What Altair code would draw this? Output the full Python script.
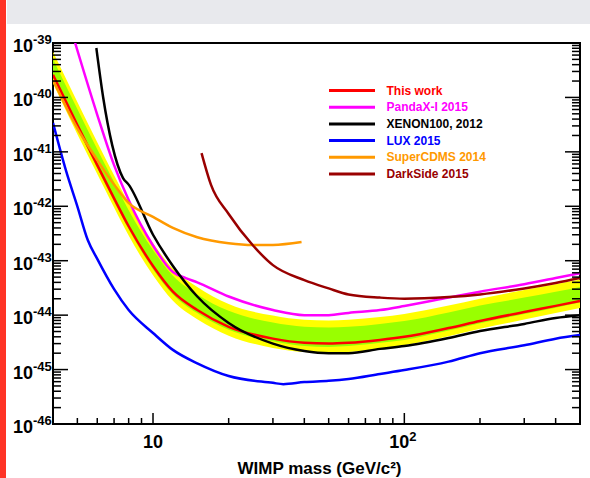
import altair as alt
import pandas as pd

# ---------------- data (WIMP-nucleon cross section, cm^2) ----------------
mass = [4, 5, 6, 7, 8, 10, 12, 15, 20, 30, 40, 50, 60, 80, 100, 150, 200, 300, 400, 500]
this_work = [2.6e-40, 3.1e-41, 5.7e-42, 1.4e-42, 4.3e-43, 8.0e-44, 2.7e-44, 1.24e-44, 6.1e-45, 3.7e-45,
             3.1e-45, 3.0e-45, 3.1e-45, 3.5e-45, 4.0e-45, 5.8e-45, 7.8e-45, 1.14e-44, 1.48e-44, 1.82e-44]
band2_hi = [6.9e-40, 8.2e-41, 1.5e-41, 3.7e-42, 1.14e-42, 2.1e-43, 7.2e-44, 3.3e-44, 1.6e-44, 9.8e-45,
            8.2e-45, 8.0e-45, 8.2e-45, 9.2e-45, 1.05e-44, 1.5e-44, 2.0e-44, 2.9e-44, 3.7e-44, 4.5e-44]
band1_hi = [5.1e-40, 6.1e-41, 1.12e-41, 2.8e-42, 8.5e-43, 1.58e-43, 5.3e-44, 2.4e-44, 1.2e-44, 7.3e-45,
            6.1e-45, 5.9e-45, 6.1e-45, 6.9e-45, 7.8e-45, 1.12e-44, 1.5e-44, 2.1e-44, 2.7e-44, 3.3e-44]
band1_lo = [2.3e-40, 2.7e-41, 5.0e-42, 1.23e-42, 3.8e-43, 7.0e-44, 2.4e-44, 1.09e-44, 5.4e-45, 3.3e-45,
            2.7e-45, 2.6e-45, 2.7e-45, 3.1e-45, 3.5e-45, 5.2e-45, 7.1e-45, 1.05e-44, 1.37e-44, 1.7e-44]
band2_lo = [1.8e-40, 2.1e-41, 3.9e-42, 9.5e-43, 2.9e-43, 5.4e-44, 1.84e-44, 8.4e-45, 4.2e-45, 2.5e-45,
            2.1e-45, 2.0e-45, 2.1e-45, 2.4e-45, 2.8e-45, 4.1e-45, 5.6e-45, 8.3e-45, 1.09e-44, 1.35e-44]

pandax_mass = [4.9, 6, 7, 8, 10, 12, 13.5, 15, 20, 30, 40, 50, 60, 80, 100, 150, 200, 300, 400, 500]
pandax = [1.0e-39, 4.8e-41, 5.7e-42, 1.3e-42, 1.9e-43, 6.2e-44, 4.8e-44, 4.0e-44, 2.2e-44, 1.24e-44,
          1.0e-44, 1.0e-44, 1.1e-44, 1.24e-44, 1.47e-44, 2.1e-44, 2.7e-44, 3.7e-44, 4.8e-44, 5.9e-44]

xenon_mass = [5.95, 6.33, 6.88, 7.6, 8, 10, 12, 15, 20, 30, 40, 50, 60, 80, 100, 150, 200, 300, 400, 500]
xenon = [8.1e-40, 1.02e-40, 1.33e-41, 3.3e-42, 2.5e-42, 3.0e-43, 8.0e-44, 2.2e-44, 7.2e-45, 3.0e-45,
         2.2e-45, 2.0e-45, 2.0e-45, 2.4e-45, 2.7e-45, 3.8e-45, 5.1e-45, 6.9e-45, 8.9e-45, 1.0e-44]

lux_mass = [4, 4.5, 5, 5.5, 6, 7, 8, 10, 12, 15, 20, 30, 33, 40, 50, 60, 80, 100, 150, 200, 300, 400, 500]
lux = [3.4e-41, 4.6e-42, 1.0e-42, 2.4e-43, 1.08e-43, 3.0e-44, 1.24e-44, 4.7e-45, 2.3e-45, 1.3e-45,
       7.6e-46, 5.7e-46, 5.4e-46, 5.9e-46, 6.2e-46, 6.7e-46, 8.3e-46, 9.8e-46, 1.4e-45, 2.0e-45,
       2.8e-45, 3.7e-45, 4.3e-45]

cdms_mass = [4, 5, 6, 7, 8, 10, 12, 15, 20, 25, 30, 39]
cdms = [2.1e-40, 2.7e-41, 7.1e-42, 2.5e-42, 1.15e-42, 6.4e-43, 4.0e-43, 2.7e-43, 2.1e-43, 1.95e-43,
        1.95e-43, 2.2e-43]

ds_mass = [15.6, 17, 20, 25, 30, 40, 50, 60, 80, 100, 150, 200, 300, 400, 500]
darkside = [9.5e-42, 2.5e-42, 7.2e-43, 1.9e-43, 8.3e-44, 4.4e-44, 3.1e-44, 2.4e-44, 2.1e-44, 2.0e-44,
            2.15e-44, 2.4e-44, 3.1e-44, 3.9e-44, 4.8e-44]

names = ["This work", "PandaX-I 2015", "XENON100, 2012", "LUX 2015", "SuperCDMS 2014", "DarkSide 2015"]
colors = ["#ff0000", "#ff00ff", "#000000", "#0000ff", "#ff9900", "#990000"]

# axis ticks and labels
y_exponents = ["-46", "-45", "-44", "-43", "-42", "-41", "-40", "-39"]
y_major = [10.0 ** int(e) for e in y_exponents]
y_minor = [k * 10.0 ** p for p in range(-46, -39) for k in range(2, 10)]
x_major = [10, 100]
x_minor = [5, 6, 7, 8, 9, 20, 30, 40, 50, 60, 70, 80, 90, 200, 300, 400]
x_title = "WIMP mass (GeV/c²)"

# ---------------- chart ----------------
W, H = 527, 381
FONT = "Liberation Sans"
xs = alt.Scale(type="log", domain=[4, 500], nice=False)
ys = alt.Scale(type="log", domain=[1e-46, 1e-39], nice=False)

band_df = pd.DataFrame({"mass": mass, "y2lo": band2_lo, "y2hi": band2_hi,
                        "y1lo": band1_lo, "y1hi": band1_hi})

series = [(names[0], mass, this_work), (names[1], pandax_mass, pandax), (names[2], xenon_mass, xenon),
          (names[3], lux_mass, lux), (names[4], cdms_mass, cdms), (names[5], ds_mass, darkside)]
lines_df = pd.DataFrame([{"experiment": n, "mass": m, "xs": v}
                         for n, ms, vs in series for m, v in zip(ms, vs)])

yellow = alt.Chart(band_df).mark_area(color="#ffff00", opacity=1, interpolate="monotone").encode(
    x=alt.X("mass:Q", scale=xs, axis=None),
    y=alt.Y("y2lo:Q", scale=ys, axis=None), y2="y2hi:Q")
green = alt.Chart(band_df).mark_area(color="#99ff00", opacity=1, interpolate="monotone").encode(
    x=alt.X("mass:Q", scale=xs, axis=None),
    y=alt.Y("y1lo:Q", scale=ys, axis=None), y2="y1hi:Q")

legend = alt.Legend(
    title=None, orient="none", legendX=292.5, legendY=41, padding=0,
    symbolType="M-4.6,0L4.6,0", symbolSize=100, symbolStrokeWidth=3,
    labelFont=FONT, labelFontSize=12, labelFontWeight="bold", labelOffset=28,
    rowPadding=3.7, labelLimit=0,
    labelColor=alt.ExprRef("scale('color', datum.value)"),
)
lines = alt.Chart(lines_df).mark_line(strokeWidth=2.5, clip=True, interpolate="monotone").encode(
    x=alt.X("mass:Q", scale=xs, axis=None),
    y=alt.Y("xs:Q", scale=ys, axis=None),
    color=alt.Color("experiment:N", scale=alt.Scale(domain=names, range=colors), legend=legend),
)

# inward ticks on the left, right and bottom edges
ymaj_df = pd.DataFrame({"v": y_major})
ymin_df = pd.DataFrame({"v": y_minor})
xmaj_df = pd.DataFrame({"v": x_major})
xmin_df = pd.DataFrame({"v": x_minor})


def yticks(df, x0, x1):
    return alt.Chart(df).mark_rule(color="black", strokeWidth=1.5).encode(
        y=alt.Y("v:Q", scale=ys, axis=None), x=alt.value(x0), x2=alt.value(x1))


def xticks(df, length):
    return alt.Chart(df).mark_rule(color="black", strokeWidth=1.5).encode(
        x=alt.X("v:Q", scale=xs, axis=None), y=alt.value(H), y2=alt.value(H - length))


ticks = [yticks(ymaj_df, 0, 15), yticks(ymin_df, 0, 8), yticks(ymaj_df, W, W - 15),
         yticks(ymin_df, W, W - 8), xticks(xmaj_df, 11), xticks(xmin_df, 6)]

# tick labels: 10 with a raised exponent
ylab_df = pd.DataFrame({"v": y_major, "exp": y_exponents})
ylab_base = alt.Chart(ylab_df).mark_text(text="10", align="right", baseline="alphabetic", font=FONT,
                                         fontSize=18, fontWeight="bold", color="black", dy=9).encode(
    y=alt.Y("v:Q", scale=ys, axis=None), x=alt.value(-20))
ylab_exp = alt.Chart(ylab_df).mark_text(align="left", baseline="alphabetic", font=FONT,
                                        fontSize=13, fontWeight="bold", color="black", dy=1).encode(
    y=alt.Y("v:Q", scale=ys, axis=None), x=alt.value(-20), text="exp:N")

xlab_df = pd.DataFrame({"v": x_major, "exp": ["", "2"]})
xlab_ten = alt.Chart(xlab_df).transform_filter("datum.exp == ''").mark_text(
    text="10", align="center", baseline="alphabetic", font=FONT, fontSize=18, fontWeight="bold",
    color="black").encode(x=alt.X("v:Q", scale=xs, axis=None), y=alt.value(H + 24))
xlab_pow_base = alt.Chart(xlab_df).transform_filter("datum.exp != ''").mark_text(
    text="10", align="right", baseline="alphabetic", font=FONT, fontSize=18, fontWeight="bold",
    color="black", dx=5).encode(x=alt.X("v:Q", scale=xs, axis=None), y=alt.value(H + 24))
xlab_pow_exp = alt.Chart(xlab_df).transform_filter("datum.exp != ''").mark_text(
    align="left", baseline="alphabetic", font=FONT, fontSize=13, fontWeight="bold",
    color="black", dx=5).encode(x=alt.X("v:Q", scale=xs, axis=None), y=alt.value(H + 17),
                                text="exp:N")

# axis title
title_df = pd.DataFrame({"t": [x_title]})
xtitle = alt.Chart(title_df).mark_text(align="center", baseline="alphabetic", font=FONT, fontSize=17,
                                       fontWeight="bold", color="black").encode(
    x=alt.value(W / 2 + 3), y=alt.value(H + 50), text="t:N")

# slide decoration around the figure
deco_df = pd.DataFrame({"k": [0]})
red_strip = alt.Chart(deco_df).mark_rect(color="#ff3326").encode(
    x=alt.value(-53), x2=alt.value(-47), y=alt.value(-43), y2=alt.value(H + 54))
grey_band = alt.Chart(deco_df).mark_rect(color="#e8e9ed").encode(
    x=alt.value(-46), x2=alt.value(W + 10), y=alt.value(-43), y2=alt.value(-19))

chart = alt.layer(
    red_strip, grey_band, yellow, green, lines, *ticks,
    ylab_base, ylab_exp, xlab_ten, xlab_pow_base, xlab_pow_exp, xtitle,
).properties(
    width=W, height=H,
    padding={"left": 53, "top": 43, "right": 10, "bottom": 54},
    autosize=alt.AutoSizeParams(type="none"),
    background="white",
).configure_view(stroke="black", strokeWidth=2)

chart.save("out.html", embed_options={"renderer": "svg", "actions": False})
